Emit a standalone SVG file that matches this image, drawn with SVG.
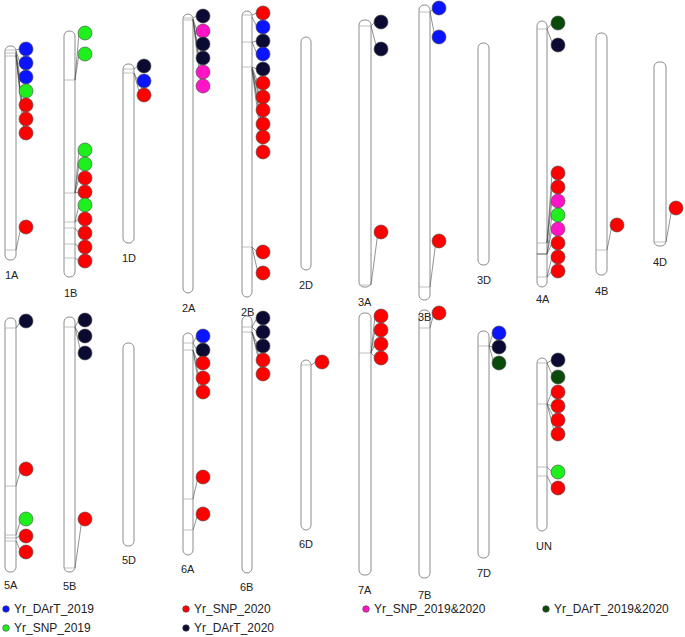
<svg xmlns="http://www.w3.org/2000/svg" width="685" height="637" viewBox="0 0 685 637">
<style>
.bar{fill:#fff;stroke:#8c8c8c;stroke-width:1}
.tk{stroke:#b0b0b0;stroke-width:0.8}
.lab{font-family:"Liberation Sans",Arial,sans-serif;font-size:11px;fill:#222}
.leg{font-family:"Liberation Sans",Arial,sans-serif;font-size:12px;fill:#222}
.cn{stroke:#4a4a4a;stroke-width:0.6;fill:none}
circle{stroke:#444;stroke-width:0.6}
.b{fill:#0a14ff}.g{fill:#1ef01e}.r{fill:#ff0000}.n{fill:#0a0a32}.m{fill:#ff14c8}.d{fill:#0a4a0a}
</style>
<rect width="685" height="637" fill="#fff"/>

<g id="chromosomes">
<g id="chr1A"><rect class="bar" x="5" y="46" width="11" height="214" rx="5"/><path class="tk" d="M5 50H16M5 53H16M5 56H16M5 250H16"/><text class="lab" x="5" y="279">1A</text></g>
<g id="chr1B"><rect class="bar" x="64" y="31" width="11" height="246" rx="5"/><path class="tk" d="M64 80H75M64 193H75M64 222H75M64 228H75M64 244H75M64 258H75"/><text class="lab" x="64" y="297">1B</text></g>
<g id="chr1D"><rect class="bar" x="123" y="64" width="11" height="179" rx="5"/><path class="tk" d="M123 69H134M123 73H134"/><text class="lab" x="122" y="262">1D</text></g>
<g id="chr2A"><rect class="bar" x="183" y="14" width="10" height="279" rx="5"/><path class="tk" d="M183 18H193M183 20H193"/><text class="lab" x="182" y="312">2A</text></g>
<g id="chr2B"><rect class="bar" x="242" y="11" width="10" height="286" rx="5"/><path class="tk" d="M242 15H252M242 42H252M242 67H252M242 247H252"/><text class="lab" x="241" y="316">2B</text></g>
<g id="chr2D"><rect class="bar" x="301" y="37" width="10" height="233" rx="5"/><text class="lab" x="299" y="289">2D</text></g>
<g id="chr3A"><rect class="bar" x="359" y="20" width="12" height="267" rx="5"/><path class="tk" d="M359 26H371M359 285H371"/><text class="lab" x="358" y="306">3A</text></g>
<g id="chr3D"><rect class="bar" x="478" y="43" width="11" height="222" rx="5"/><text class="lab" x="477" y="284">3D</text></g>
<g id="chr4A"><rect class="bar" x="537" y="21" width="10" height="266" rx="5"/><path class="tk" d="M537 29H547M537 243H547M537 277H547"/><path d="M537 254H547" stroke="#444" stroke-width="0.9"/><text class="lab" x="536" y="303">4A</text></g>
<g id="chr4B"><rect class="bar" x="596" y="33" width="11" height="242" rx="5"/><path class="tk" d="M596 250H607"/><text class="lab" x="595" y="295">4B</text></g>
<g id="chr4D"><rect class="bar" x="654" y="62" width="12" height="184" rx="5"/><path class="tk" d="M654 242H666"/><text class="lab" x="653" y="266">4D</text></g>
<g id="chr5A"><rect class="bar" x="5" y="318" width="11" height="254" rx="5"/><path class="tk" d="M5 328H16M5 486H16M5 535H16M5 538H16M5 541H16"/><text class="lab" x="4" y="589">5A</text></g>
<g id="chr5B"><rect class="bar" x="64" y="317" width="11" height="255" rx="5"/><path class="tk" d="M64 327H75M64 568H75"/><text class="lab" x="63" y="590">5B</text></g>
<g id="chr5D"><rect class="bar" x="123" y="343" width="11" height="203" rx="5"/><text class="lab" x="122" y="564">5D</text></g>
<g id="chr6A"><rect class="bar" x="183" y="333" width="10" height="222" rx="5"/><path class="tk" d="M183 343H193M183 350H193M183 499H193M183 530H193"/><text class="lab" x="181" y="573">6A</text></g>
<g id="chr6B"><rect class="bar" x="242" y="316" width="10" height="257" rx="5"/><path class="tk" d="M242 327H252M242 332H252"/><text class="lab" x="240" y="591">6B</text></g>
<g id="chr6D"><rect class="bar" x="301" y="360" width="10" height="170" rx="5"/><path class="tk" d="M301 365H311"/><text class="lab" x="299" y="548">6D</text></g>
<g id="chr7A"><rect class="bar" x="359" y="313" width="12" height="262" rx="5"/><path class="tk" d="M359 353H371"/><text class="lab" x="358" y="594">7A</text></g>
<g id="chr7B"><rect class="bar" x="419" y="310" width="11" height="268" rx="5"/><path class="tk" d="M419 328H430"/><text class="lab" x="418" y="599">7B</text></g>
<g id="chr7D"><rect class="bar" x="478" y="331" width="11" height="227" rx="5"/><path class="tk" d="M478 346H489"/><text class="lab" x="477" y="577">7D</text></g>
<g id="chrUN"><rect class="bar" x="537" y="358" width="10" height="173" rx="5"/><path class="tk" d="M537 363H547M537 404H547M537 467H547M537 476H547"/><text class="lab" x="536" y="550">UN</text></g>
<g id="chr3B"><rect class="bar" x="419" y="5" width="11" height="295" rx="5"/><path class="tk" d="M419 12H430M419 287H430"/><text class="lab" x="418" y="321">3B</text></g>
</g>

<g id="connectors" class="cn">
<path d="M16 50L20 49M16 51L20 63M16 52L20 77M16 53L20 91M16 54L22 105M16 55L24 119M16 56L24 133M16 250L21 227"/>
<path d="M75 80L79 33M75 80L79 54M75 193L79 150M75 193L79 164M75 193L79 178M75 193L79 192M75 222L79 205M75 222L79 219M75 228L79 233M75 244L79 247M75 258L79 261"/>
<path d="M134 69L138 66M134 73L138 81M134 73L140 95"/>
<path d="M193 18L197 16M193 19L197 31M193 19L197 43M193 19L199 58M193 20L201 72M193 20L201 86"/>
<path d="M252 15L257 13M252 17L257 27M252 42L257 41M252 42L257 54M252 67L257 69M252 67L258 83M252 68L260 97M252 68L262 110M252 69L262 124M252 69L263 137M252 70L263 152M252 247L257 252M252 247L258 273"/>
<path d="M371 26L375 22M371 26L377 49M371 285L378 232"/>
<path d="M430 12L434 8M430 12L435 37M430 287L436 241"/>
<path d="M547 29L552 23M547 29L553 45M547 243L552 173M547 243L552 187M547 243L552 201M547 254L552 215M547 254L552 229M547 254L552 243M547 277L552 257M547 277L552 271"/>
<path d="M607 250L612 225"/>
<path d="M666 242L672 208"/>
<path d="M16 328L21 321M16 486L21 469M16 535L21 519M16 538L20 536M16 541L21 552"/>
<path d="M75 327L79 320M75 327L80 336M75 327L81 353M75 568L82 519"/>
<path d="M193 343L197 336M193 343L197 350M193 350L198 363M193 350L199 378M193 350L200 392M193 499L198 477M193 530L198 514"/>
<path d="M252 327L257 318M252 327L257 332M252 332L258 346M252 332L260 360M252 332L262 374"/>
<path d="M311 365L316 362"/>
<path d="M371 353L375 316M371 353L375 330M371 353L375 344M371 353L376 358"/>
<path d="M430 328L434 313"/>
<path d="M489 346L493 333M489 346L493 347M489 346L494 363"/>
<path d="M547 363L552 360M547 363L553 377M547 404L552 392M547 404L552 406M547 404L555 420M547 404L555 434M547 467L552 472M547 476L553 488"/>
</g>

<g id="markers">
<circle class="b" cx="26" cy="49" r="7"/><circle class="b" cx="26" cy="63" r="7"/><circle class="b" cx="26" cy="77" r="7"/><circle class="g" cx="26" cy="91" r="7"/><circle class="r" cx="26" cy="105" r="7"/><circle class="r" cx="26" cy="119" r="7"/><circle class="r" cx="26" cy="133" r="7"/><circle class="r" cx="26" cy="227" r="7"/>
<circle class="g" cx="85" cy="33" r="7"/><circle class="g" cx="85" cy="54" r="7"/><circle class="g" cx="85" cy="150" r="7"/><circle class="g" cx="85" cy="164" r="7"/><circle class="r" cx="85" cy="178" r="7"/><circle class="r" cx="85" cy="192" r="7"/><circle class="g" cx="85" cy="205" r="7"/><circle class="r" cx="85" cy="219" r="7"/><circle class="r" cx="85" cy="233" r="7"/><circle class="r" cx="85" cy="247" r="7"/><circle class="r" cx="85" cy="261" r="7"/>
<circle class="n" cx="144" cy="66" r="7"/><circle class="b" cx="144" cy="81" r="7"/><circle class="r" cx="144" cy="95" r="7"/>
<circle class="n" cx="203" cy="16" r="7"/><circle class="m" cx="203" cy="31" r="7"/><circle class="n" cx="203" cy="44" r="7"/><circle class="n" cx="203" cy="58" r="7"/><circle class="m" cx="203" cy="72" r="7"/><circle class="m" cx="203" cy="86" r="7"/>
<circle class="r" cx="263" cy="13" r="7"/><circle class="b" cx="263" cy="27" r="7"/><circle class="n" cx="263" cy="41" r="7"/><circle class="b" cx="263" cy="54" r="7"/><circle class="n" cx="263" cy="69" r="7"/><circle class="r" cx="263" cy="83" r="7"/><circle class="r" cx="263" cy="97" r="7"/><circle class="r" cx="263" cy="110" r="7"/><circle class="r" cx="263" cy="124" r="7"/><circle class="r" cx="263" cy="137" r="7"/><circle class="r" cx="263" cy="152" r="7"/><circle class="r" cx="263" cy="252" r="7"/><circle class="r" cx="263" cy="273" r="7"/>
<circle class="n" cx="381" cy="22" r="7"/><circle class="n" cx="381" cy="49" r="7"/><circle class="r" cx="381" cy="232" r="7"/>
<circle class="b" cx="439" cy="8" r="7"/><circle class="b" cx="439" cy="37" r="7"/><circle class="r" cx="439" cy="241" r="7"/>
<circle class="d" cx="558" cy="23" r="7"/><circle class="n" cx="558" cy="45" r="7"/><circle class="r" cx="558" cy="173" r="7"/><circle class="r" cx="558" cy="187" r="7"/><circle class="m" cx="558" cy="201" r="7"/><circle class="g" cx="558" cy="215" r="7"/><circle class="m" cx="558" cy="229" r="7"/><circle class="r" cx="558" cy="243" r="7"/><circle class="r" cx="558" cy="257" r="7"/><circle class="r" cx="558" cy="271" r="7"/>
<circle class="r" cx="617" cy="225" r="7"/>
<circle class="r" cx="676" cy="208" r="7"/>
<circle class="n" cx="26" cy="321" r="7"/><circle class="r" cx="26" cy="469" r="7"/><circle class="g" cx="26" cy="519" r="7"/><circle class="r" cx="26" cy="536" r="7"/><circle class="r" cx="26" cy="552" r="7"/>
<circle class="n" cx="85" cy="320" r="7"/><circle class="n" cx="85" cy="336" r="7"/><circle class="n" cx="85" cy="353" r="7"/><circle class="r" cx="85" cy="519" r="7"/>
<circle class="b" cx="203" cy="336" r="7"/><circle class="n" cx="203" cy="350" r="7"/><circle class="r" cx="203" cy="363" r="7"/><circle class="r" cx="203" cy="378" r="7"/><circle class="r" cx="203" cy="392" r="7"/><circle class="r" cx="203" cy="477" r="7"/><circle class="r" cx="203" cy="514" r="7"/>
<circle class="n" cx="263" cy="318" r="7"/><circle class="n" cx="263" cy="332" r="7"/><circle class="n" cx="263" cy="346" r="7"/><circle class="r" cx="263" cy="360" r="7"/><circle class="r" cx="263" cy="374" r="7"/>
<circle class="r" cx="322" cy="362" r="7"/>
<circle class="r" cx="381" cy="316" r="7"/><circle class="r" cx="381" cy="330" r="7"/><circle class="r" cx="381" cy="344" r="7"/><circle class="r" cx="381" cy="358" r="7"/>
<circle class="r" cx="439" cy="313" r="7"/>
<circle class="b" cx="499" cy="333" r="7"/><circle class="n" cx="499" cy="347" r="7"/><circle class="d" cx="499" cy="363" r="7"/>
<circle class="n" cx="558" cy="360" r="7"/><circle class="d" cx="558" cy="377" r="7"/><circle class="r" cx="558" cy="392" r="7"/><circle class="r" cx="558" cy="406" r="7"/><circle class="r" cx="558" cy="420" r="7"/><circle class="r" cx="558" cy="434" r="7"/><circle class="g" cx="558" cy="472" r="7"/><circle class="r" cx="558" cy="488" r="7"/>
</g>

<g id="legend">
<circle class="b" cx="6" cy="609" r="3.3"/><text class="leg" x="14" y="613">Yr_DArT_2019</text>
<circle class="r" cx="186" cy="609" r="3.3"/><text class="leg" x="194" y="613">Yr_SNP_2020</text>
<circle class="m" cx="366" cy="609" r="3.3"/><text class="leg" x="374" y="613">Yr_SNP_2019&amp;2020</text>
<circle class="d" cx="546" cy="609" r="3.3"/><text class="leg" x="554" y="613">Yr_DArT_2019&amp;2020</text>
<circle class="g" cx="6" cy="628" r="3.3"/><text class="leg" x="14" y="632">Yr_SNP_2019</text>
<circle class="n" cx="186" cy="628" r="3.3"/><text class="leg" x="194" y="632">Yr_DArT_2020</text>
</g>
</svg>
